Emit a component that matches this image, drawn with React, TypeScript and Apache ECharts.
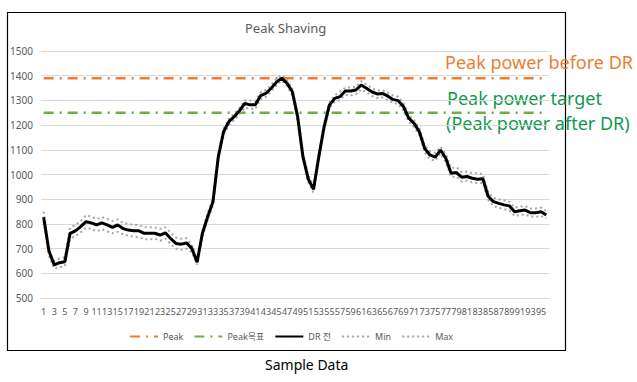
import React, { useEffect, useRef } from "react";
import * as echarts from "echarts";

const categories: string[] = Array.from({ length: 96 }, (_, i) => String(i + 1));

const peakValue = 1390;
const targetValue = 1250;

const drBefore: number[] = [
  827, 690, 634, 643, 647, 762, 772, 789, 809, 804,
  796, 804, 796, 786, 796, 781, 775, 772, 772, 762,
  762, 762, 755, 764, 741, 721, 718, 723, 701, 645,
  762, 829, 890, 1071, 1173, 1214, 1234, 1258, 1288, 1282,
  1282, 1319, 1328, 1349, 1374, 1390, 1369, 1335, 1234, 1072,
  982, 940, 1072, 1193, 1281, 1308, 1315, 1338, 1338, 1342,
  1362, 1349, 1335, 1326, 1328, 1318, 1304, 1299, 1275, 1228,
  1207, 1173, 1106, 1079, 1070, 1099, 1066, 1005, 1008, 989,
  992, 985, 981, 983, 912, 890, 883, 877, 873, 849,
  853, 856, 845, 845, 849, 836,
];

const maxValues: number[] = [
  850, 695, 650, 660, 665, 785, 795, 812, 835, 830,
  820, 828, 820, 812, 818, 805, 800, 796, 795, 786,
  786, 785, 780, 786, 765, 745, 740, 742, 716, 655,
  772, 845, 902, 1085, 1185, 1225, 1245, 1270, 1300, 1300,
  1298, 1332, 1342, 1362, 1388, 1402, 1382, 1347, 1247, 1087,
  997, 955, 1087, 1207, 1292, 1320, 1335, 1352, 1352, 1355,
  1378, 1365, 1350, 1340, 1342, 1332, 1320, 1315, 1290, 1242,
  1220, 1187, 1120, 1094, 1087, 1112, 1082, 1025, 1030, 1010,
  1012, 1005, 1005, 1002, 928, 906, 900, 895, 890, 866,
  870, 872, 862, 862, 866, 852,
];

const minValues: number[] = [
  810, 672, 618, 625, 628, 740, 750, 765, 785, 780,
  770, 778, 770, 762, 768, 758, 752, 748, 745, 738,
  738, 740, 732, 740, 718, 700, 695, 700, 685, 635,
  748, 815, 876, 1057, 1160, 1200, 1220, 1245, 1270, 1266,
  1265, 1305, 1315, 1335, 1362, 1380, 1358, 1320, 1220, 1060,
  970, 926, 1060, 1180, 1268, 1295, 1302, 1322, 1320, 1325,
  1345, 1332, 1318, 1310, 1312, 1302, 1290, 1285, 1260, 1212,
  1192, 1160, 1090, 1062, 1055, 1085, 1050, 990, 992, 972,
  975, 968, 965, 966, 898, 872, 865, 860, 855, 832,
  836, 838, 830, 828, 832, 822,
];

const yTicks = { min: 500, max: 1500, interval: 100 };

const seriesNames = ["Peak", "Peak목표", "DR 전", "Min", "Max"];

const FONT = "'Noto Sans', 'Noto Sans CJK KR', sans-serif";

export default function App() {
  const ref = useRef<HTMLDivElement>(null);

  useEffect(() => {
    if (!ref.current) return;
    const chart = echarts.init(ref.current, undefined, { renderer: "svg" });
    const peakLine = categories.map(() => peakValue);
    const targetLine = categories.map(() => targetValue);

    chart.setOption({
      animation: false,
      backgroundColor: "#ffffff",
      textStyle: { fontFamily: FONT },
      grid: { left: 41, right: 88, top: 51, bottom: 84 },
      legend: {
        left: 124,
        top: 327,
        itemGap: 10,
        itemWidth: 28,
        itemHeight: 8,
        itemStyle: { opacity: 0 },
        textStyle: { fontSize: 9, color: "#595959", fontFamily: FONT },
        data: seriesNames,
      },
      xAxis: {
        type: "category",
        data: categories,
        boundaryGap: true,
        axisLine: { show: true, lineStyle: { color: "#d9d9d9" } },
        axisTick: { show: false },
        axisLabel: {
          interval: 0,
          formatter: (value: string, index: number) => (index % 2 === 0 ? value : ""),
          fontSize: 9,
          color: "#595959",
          margin: 9,
          fontFamily: FONT,
          showMaxLabel: true,
          showMinLabel: true,
          hideOverlap: false,
        },
      },
      yAxis: {
        type: "value",
        min: yTicks.min,
        max: yTicks.max,
        interval: yTicks.interval,
        axisLine: { show: false },
        axisTick: { show: false },
        axisLabel: {
          fontSize: 10,
          color: "#595959",
          margin: 8,
          fontFamily: FONT,
          formatter: (v: number) => String(v),
        },
        splitLine: { lineStyle: { color: "#d9d9d9", width: 1 } },
      },
      series: [
        {
          name: "Peak",
          type: "line",
          data: peakLine,
          symbol: "none",
          itemStyle: { color: "#ED7D31" },
          lineStyle: { color: "#ED7D31", width: 2.5, type: [10, 6, 2, 6] },
        },
        {
          name: "Peak목표",
          type: "line",
          data: targetLine,
          symbol: "none",
          itemStyle: { color: "#70AD47" },
          lineStyle: { color: "#70AD47", width: 2.5, type: [10, 6, 2, 6] },
        },
        {
          name: "Min",
          type: "line",
          data: minValues,
          symbol: "none",
          itemStyle: { color: "#a5a5a5" },
          lineStyle: { color: "#a5a5a5", width: 2, type: [2, 3] },
        },
        {
          name: "Max",
          type: "line",
          data: maxValues,
          symbol: "none",
          itemStyle: { color: "#a5a5a5" },
          lineStyle: { color: "#a5a5a5", width: 2, type: [2, 3] },
        },
        {
          name: "DR 전",
          type: "line",
          data: drBefore,
          symbol: "none",
          itemStyle: { color: "#000000" },
          lineStyle: { color: "#000000", width: 3 },
          z: 5,
        },
      ],
      graphic: [
        {
          type: "rect",
          left: 5,
          top: 10,
          shape: { width: 558, height: 338 },
          style: { fill: "none", stroke: "#000000", lineWidth: 1.2 },
          silent: true,
        },
        {
          type: "text",
          left: 245,
          top: 21,
          style: { text: "Peak Shaving", fontSize: 13, fill: "#595959", fontFamily: FONT },
        },
        {
          type: "text",
          left: 445,
          top: 53,
          style: { text: "Peak power before DR", fontSize: 18, fill: "#EE7D31", fontFamily: FONT },
        },
        {
          type: "text",
          left: 447,
          top: 89,
          style: { text: "Peak power target", fontSize: 18, fill: "#0E9A4E", fontFamily: FONT },
        },
        {
          type: "text",
          left: 446,
          top: 114,
          style: { text: "(Peak power after DR)", fontSize: 18, fill: "#0E9A4E", fontFamily: FONT },
        },
        {
          type: "text",
          left: 265,
          top: 357,
          style: { text: "Sample Data", fontSize: 14, fill: "#000000", fontFamily: FONT },
        },
      ],
    });
    return () => chart.dispose();
  }, []);

  return (
    <div
      ref={ref}
      style={{ position: "absolute", left: 0, top: 0, width: 637, height: 382 }}
    />
  );
}
